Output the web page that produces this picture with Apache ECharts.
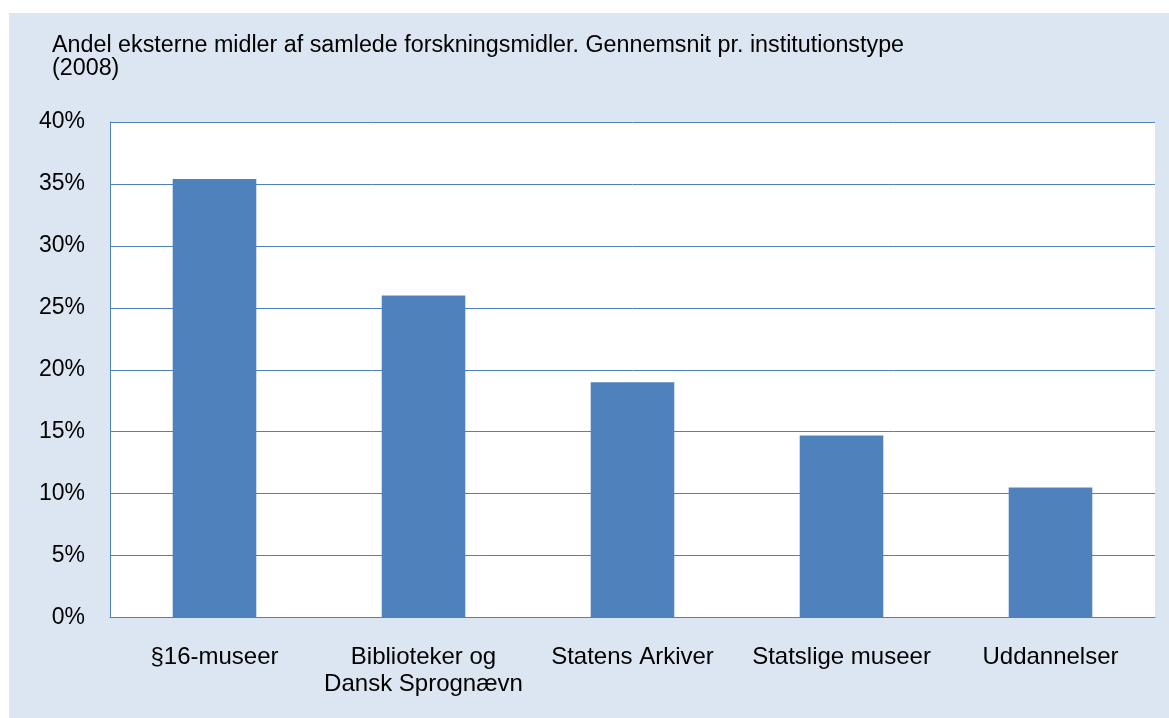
<!DOCTYPE html>
<html>
<head>
<meta charset="utf-8">
<script src="https://cdn.jsdelivr.net/npm/echarts@6/dist/echarts.min.js"></script>
<style>
  html, body { margin: 0; padding: 0; background: #fff; }
  #chart { width: 1169px; height: 718px; }
</style>
</head>
<body>
<div id="chart"></div>
<script>
// institutionstyper
var categories = ['§16-museer', 'Biblioteker og\nDansk Sprognævn', 'Statens Arkiver', 'Statslige museer', 'Uddannelser'];
// andel eksterne midler i procent
var shares = [35.4, 26.0, 19.0, 14.7, 10.5];
var yTicks = [0, 5, 10, 15, 20, 25, 30, 35, 40];

var titleText = 'Andel eksterne midler af samlede forskningsmidler. Gennemsnit pr. institutionstype\n(2008)';
var font = '"Liberation Sans", Arial, sans-serif';
var blue = '#4f81bd';

var myChart = echarts.init(document.getElementById('chart'));
var option = {
  backgroundColor: '#fff',
  animation: false,
  graphic: [{
    type: 'rect',
    z: -10,
    shape: { x: 9, y: 13, width: 1170, height: 710 },
    style: { fill: '#dce6f2' }
  }],
  title: {
    text: titleText,
    left: 52,
    top: 34,
    padding: 0,
    textStyle: {
      fontFamily: font,
      fontSize: 23.3,
      fontWeight: 'normal',
      color: '#000',
      lineHeight: 23
    }
  },
  grid: {
    left: 110,
    right: 14,
    top: 122,
    bottom: 100.5,
    show: true,
    backgroundColor: '#fff',
    borderWidth: 0
  },
  xAxis: {
    type: 'category',
    data: categories,
    axisTick: { show: false },
    axisLine: { lineStyle: { color: blue, width: 1 } },
    axisLabel: {
      interval: 0,
      margin: 26,
      fontFamily: font,
      fontSize: 24,
      color: '#000',
      lineHeight: 27
    }
  },
  yAxis: {
    type: 'value',
    min: yTicks[0],
    max: yTicks[yTicks.length - 1],
    interval: 5,
    axisLine: { show: true, lineStyle: { color: blue, width: 1 } },
    axisTick: { show: false },
    splitLine: { lineStyle: { color: blue, width: 1 } },
    axisLabel: {
      margin: 25,
      fontFamily: font,
      fontSize: 23,
      color: '#000',
      formatter: function (v) { return v + '%'; }
    }
  },
  series: [{
    type: 'bar',
    data: shares,
    barWidth: '40%',
    itemStyle: { color: blue }
  }]
};
myChart.setOption(option);
</script>
</body>
</html>
